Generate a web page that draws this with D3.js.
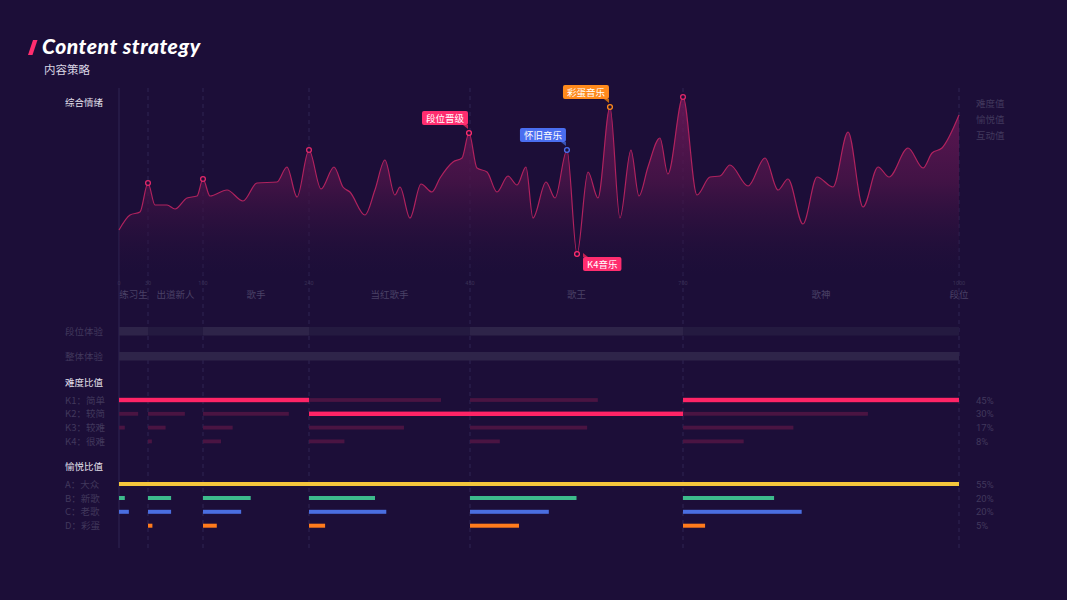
<!DOCTYPE html>
<html><head><meta charset="utf-8">
<script src="https://cdn.jsdelivr.net/npm/d3@7/dist/d3.min.js"></script>
<style>
html,body{margin:0;padding:0;background:#1c0e38;}
svg{display:block;}
text{font-family:"Noto Sans CJK SC","Noto Sans",sans-serif;}
</style></head>
<body>
<svg id="chart" width="1067" height="600"></svg>
<script>
// ---------- DATA ----------
const stageTicks = [0, 30, 100, 240, 450, 700, 1000];
const stageNames = ["练习生", "出道新人", "歌手", "当红歌手", "歌王", "歌神"];
const axisEndLabel = "段位";

const emotionX = [0,11.4,21.7,30,38.9,54.2,64.4,79.6,92.4,100,109.2,131.7,152.8,171.3,197.7,210.9,224.2,240,255.7,272.6,284.3,293.4,313,326,339,352,358.7,371.7,386.1,400.4,410.9,427.8,439.6,448.7,458.2,470,481.7,494.6,505.2,515.7,523.9,539.2,549.8,563.8,575.6,588.5,600.2,614.3,626,638.9,648.3,658.9,672.9,682.3,700,715.2,729.3,740.2,751.1,770.7,789.1,803.3,814.1,830.4,845.7,863,879.4,895.7,912,924,944.6,960.9,970.7,981.5,1000];
const emotionY = [45,60,63,92,70,70,66,77,79,96,79,85,74,92,93,108,78,125,86,108,88,83,60,85,115,80,88,57,91,83,97,113,117,142,107,103,83,99,90,108,57,93,77,125,21,103,77,168,57,125,79,108,137,101,178,80,98,99,110,89,117,85,96,51,98,88,143,68,108,98,127,107,122,127,160];

const markerIdx = [3, 9, 17, 33, 43, 44, 47, 54];
const markerTags = ["", "", "", "段位晋级", "怀旧音乐", "K4音乐", "彩蛋音乐", ""];
const markerColors = ["#e0286a","#e0286a","#e0286a","#ff2d6f","#4a6ef0","#ff2d6f","#ff8a1c","#e0286a"];

const legendItems = ["难度值", "愉悦值", "互动值"];

const expRows = ["段位体验", "整体体验"];

const diffCats = ["K1：简单", "K2：较简", "K3：较难", "K4：很难"];
const diffShares = ["45%", "30%", "17%", "8%"];
const diffK1 = [1, 1, 1, 0.82, 0.60, 1];
const diffK2 = [0.66, 0.67, 0.81, 1, 1, 0.67];
const diffK3 = [0.2, 0.32, 0.28, 0.59, 0.55, 0.40];
const diffK4 = [0, 0.07, 0.17, 0.22, 0.14, 0.22];

const joyCats = ["A：大众", "B：新歌", "C：老歌", "D：彩蛋"];
const joyShares = ["55%", "20%", "20%", "5%"];
const joyA = [1, 1, 1, 1, 1, 1];
const joyB = [0.2, 0.42, 0.45, 0.41, 0.50, 0.33];
const joyC = [0.34, 0.42, 0.36, 0.48, 0.37, 0.43];
const joyD = [0, 0.08, 0.13, 0.10, 0.23, 0.08];
const joyColors = ["#f5c63c", "#3dba8c", "#4a6ee0", "#ff7b1c"];

// ---------- LAYOUT ----------
const svg = d3.select("#chart");
const bg = "#1c0e38";
const dim = "#41385c";

const x = d3.scaleLinear().domain(stageTicks).range([119, 148, 203, 309, 470, 683, 959]);
const y = d3.scaleLinear().domain([0, 185]).range([275, 90]);

// title
svg.append("polygon").attr("points", "33,40 37.5,40 32.5,55 28,55").attr("fill", "#ff2d6f");
svg.append("text").attr("x", 42).attr("y", 54).attr("fill", "#ffffff")
  .style("font-family", "Lato, 'Open Sans', sans-serif").style("font-weight", 900)
  .style("font-style", "italic").style("font-size", "21px").style("letter-spacing", "0.55px").text("Content strategy");
svg.append("text").attr("x", 44).attr("y", 74).attr("fill", "#d8d4e2")
  .style("font-size", "11.5px").text("内容策略");

// vertical grid lines
const grid = svg.append("g");
stageTicks.forEach((t, i) => {
  grid.append("line").attr("x1", x(t)).attr("x2", x(t)).attr("y1", 88).attr("y2", 548)
    .attr("stroke", "#2f2552").attr("stroke-width", 1)
    .attr("stroke-dasharray", i === 0 ? null : "4,4");
});

// section headers
svg.append("text").attr("x", 65).attr("y", 106).attr("fill", "#e4e0ec").style("font-size", "9.5px").text("综合情绪");

// legend right
legendItems.forEach((d, i) => {
  svg.append("text").attr("x", 976).attr("y", 107 + i * 16).attr("fill", dim).style("font-size", "9.5px").text(d);
});

// area gradient
const defs = svg.append("defs");
const grad = defs.append("linearGradient").attr("id", "ag").attr("gradientUnits", "userSpaceOnUse")
  .attr("x1", 0).attr("y1", y(185)).attr("x2", 0).attr("y2", y(0));
grad.append("stop").attr("offset", "0").attr("stop-color", "#7a1a5e").attr("stop-opacity", 0.75);
grad.append("stop").attr("offset", "0.5").attr("stop-color", "#4a1448").attr("stop-opacity", 0.8);
grad.append("stop").attr("offset", "1").attr("stop-color", bg).attr("stop-opacity", 0.2);

const pts = emotionX.map((d, i) => [d, emotionY[i]]);
const area = d3.area().x(d => x(d[0])).y0(y(0)).y1(d => y(d[1])).curve(d3.curveMonotoneX);
const line = d3.line().x(d => x(d[0])).y(d => y(d[1])).curve(d3.curveMonotoneX);
svg.append("path").datum(pts).attr("d", area).attr("fill", "url(#ag)");
svg.append("path").datum(pts).attr("d", line).attr("fill", "none").attr("stroke", "#b0225e").attr("stroke-width", 1.2);

// markers & tags
markerIdx.forEach((idx, k) => {
  const cx = x(emotionX[idx]), cy = y(emotionY[idx]);
  const col = markerColors[k];
  const tag = markerTags[k];
  if (tag) {
    const g = svg.append("g");
    const t = g.append("text").attr("fill", "#fff").style("font-size", "9.5px").text(tag);
    const w = t.node().getComputedTextLength() + 8, h = 14;
    let bx, by, tri;
    if (tag === "K4音乐") {
      bx = cx + 6; by = cy + 3;
      tri = `${bx},${by} ${bx + 5},${by} ${bx},${by - 4}`;
    } else {
      bx = cx - w - 1; by = cy - h - 8;
      tri = `${bx + w - 5},${by + h} ${bx + w},${by + h} ${bx + w},${by + h + 4}`;
    }
    g.insert("rect", "text").attr("x", bx).attr("y", by).attr("width", w).attr("height", h).attr("rx", 2).attr("fill", col);
    g.insert("polygon", "text").attr("points", tri).attr("fill", d3.color(col).darker(0.8));
    t.attr("x", bx + 4).attr("y", by + 10.5);
  }
  svg.append("circle").attr("cx", cx).attr("cy", cy).attr("r", 2.4)
    .attr("fill", bg).attr("stroke", col).attr("stroke-width", 1.3);
});

// tick labels and stage names
stageTicks.forEach(t => {
  svg.append("text").attr("x", x(t)).attr("y", 285).attr("text-anchor", "middle")
    .attr("fill", "#3a3155").style("font-size", "5.5px").style("font-family", "Roboto, sans-serif").text(t);
});
stageNames.forEach((n, i) => {
  svg.append("text").attr("x", (x(stageTicks[i]) + x(stageTicks[i + 1])) / 2).attr("y", 298)
    .attr("text-anchor", "middle").attr("fill", "#4a4166").style("font-size", "9.5px").text(n);
});
svg.append("text").attr("x", x(1000)).attr("y", 298).attr("text-anchor", "middle")
  .attr("fill", "#4a4166").style("font-size", "9.5px").text(axisEndLabel);

// experience rows
const expY = [331, 356];
expRows.forEach((r, i) => {
  svg.append("text").attr("x", 65).attr("y", expY[i] + 3.5).attr("fill", dim).style("font-size", "9.5px").text(r);
});
stageNames.forEach((n, i) => {
  svg.append("rect").attr("x", x(stageTicks[i])).attr("y", expY[0] - 4).attr("width", x(stageTicks[i + 1]) - x(stageTicks[i]))
    .attr("height", 8.5).attr("fill", i % 2 === 0 ? "#2e2449" : "#241a40");
});
svg.append("rect").attr("x", x(0)).attr("y", expY[1] - 4).attr("width", x(1000) - x(0)).attr("height", 8.5).attr("fill", "#2e2449");

// difficulty
svg.append("text").attr("x", 65).attr("y", 385.5).attr("fill", "#e4e0ec").style("font-size", "9.5px").text("难度比值");
const diffData = [diffK1, diffK2, diffK3, diffK4];
const diffY = [400, 413.8, 427.6, 441.4];
diffCats.forEach((c, r) => {
  svg.append("text").attr("x", 65).attr("y", diffY[r] + 3.5).attr("fill", dim).style("font-size", "9.5px").text(c);
  svg.append("text").attr("x", 976).attr("y", diffY[r] + 3.5).attr("fill", dim).style("font-size", "9.5px")
    .style("font-family", "Roboto, sans-serif").text(diffShares[r]);
  diffData[r].forEach((f, i) => {
    if (f <= 0) return;
    const x0 = x(stageTicks[i]), x1 = x(stageTicks[i + 1]);
    const full = f >= 1;
    svg.append("rect").attr("x", x0).attr("y", diffY[r] - (full ? 2.2 : 1.9)).attr("width", (x1 - x0) * f)
      .attr("height", full ? 4.4 : 3.8).attr("fill", full ? "#ff2466" : "#4a1442");
  });
});

// joy
svg.append("text").attr("x", 65).attr("y", 470).attr("fill", "#e4e0ec").style("font-size", "9.5px").text("愉悦比值");
const joyData = [joyA, joyB, joyC, joyD];
const joyY = [484, 498, 511.8, 525.7];
joyCats.forEach((c, r) => {
  svg.append("text").attr("x", 65).attr("y", joyY[r] + 3.5).attr("fill", dim).style("font-size", "9.5px").text(c);
  svg.append("text").attr("x", 976).attr("y", joyY[r] + 3.5).attr("fill", dim).style("font-size", "9.5px")
    .style("font-family", "Roboto, sans-serif").text(joyShares[r]);
  joyData[r].forEach((f, i) => {
    if (f <= 0) return;
    const x0 = x(stageTicks[i]), x1 = x(stageTicks[i + 1]);
    svg.append("rect").attr("x", x0).attr("y", joyY[r] - 2).attr("width", (x1 - x0) * f)
      .attr("height", 4).attr("fill", joyColors[r]);
  });
});
</script>
</body></html>
